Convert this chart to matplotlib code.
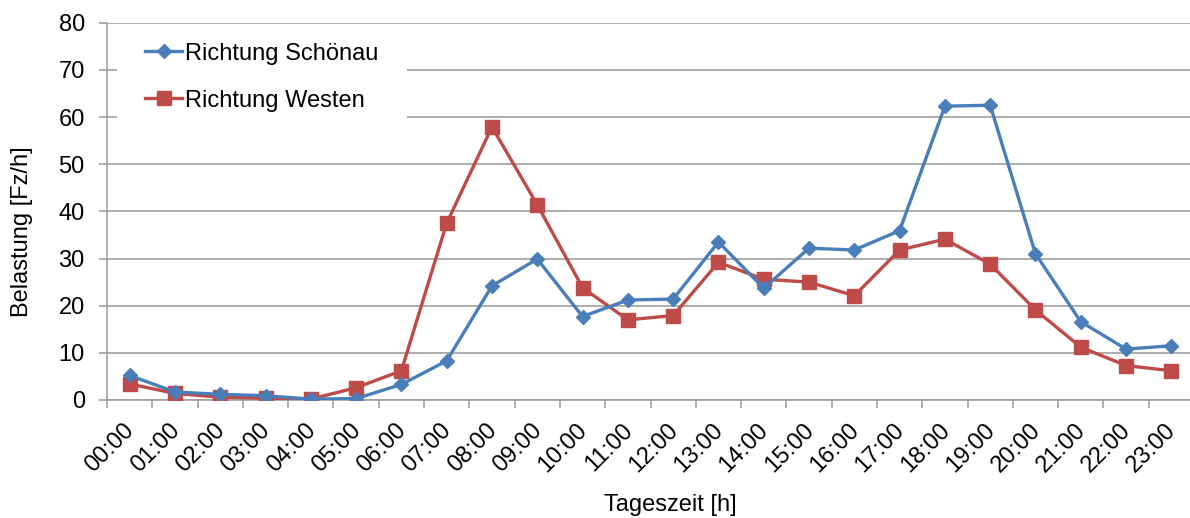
import matplotlib
matplotlib.use("Agg")
import matplotlib.pyplot as plt
from matplotlib.patches import Rectangle
import numpy as np

hours = [f"{h:02d}:00" for h in range(24)]
schoenau = [5.2, 1.7, 1.2, 0.9, 0.2, 0.3, 3.3, 8.3, 24.2, 29.9, 17.7, 21.2,
            21.4, 33.5, 23.7, 32.2, 31.8, 35.9, 62.3, 62.5, 31.0, 16.6, 10.8, 11.5]
westen = [3.4, 1.4, 0.6, 0.4, 0.2, 2.6, 6.2, 37.5, 57.9, 41.4, 23.8, 17.0,
          17.9, 29.2, 25.6, 25.0, 22.1, 31.8, 34.1, 28.8, 19.1, 11.2, 7.3, 6.2]
yticks = list(range(0, 81, 10))

plt.rcParams['font.family'] = ['Liberation Sans', 'DejaVu Sans']

W, H = 1190, 518
fig = plt.figure(figsize=(W / 100, H / 100), dpi=100)
left, right, top, bottom = 107, 1194, 22.7, 400
ax = fig.add_axes([left / W, 1 - bottom / H, (right - left) / W, (bottom - top) / H])

x = np.arange(len(hours)) + 0.5
blue = '#4A7EBB'
red = '#BE4B48'
ax.plot(x, schoenau, color=blue, lw=2.4, marker='D', ms=7.5, mec=blue, mfc=blue,
        label='Richtung Schönau', zorder=4)
ax.plot(x, westen, color=red, lw=2.4, marker='s', ms=9.5, mec=red, mfc=red,
        label='Richtung Westen', zorder=3)

ax.set_xlim(0, 24)
ax.set_ylim(0, 80)
ax.set_yticks(yticks)
ax.set_yticklabels([str(v) for v in yticks], fontsize=17)
ax.set_xticks(np.arange(0, 24))
ax.set_xticklabels([])
for i, lab in enumerate(hours):
    ax.text(i + 0.36, -4.1, lab, rotation=45, ha='right', va='top',
            fontsize=17, rotation_mode='anchor')

gc = '#A0A0A0'
ax.yaxis.grid(True, color=gc, lw=1.2, zorder=0)
ax.set_axisbelow(True)
for s in ['top', 'right']:
    ax.spines[s].set_visible(False)
for s in ['left', 'bottom']:
    ax.spines[s].set_color(gc)
    ax.spines[s].set_linewidth(1.2)
ax.tick_params(axis='both', colors=gc, length=6, width=1.2, labelcolor='black')
ax.tick_params(axis='y', pad=10)

fig.text(22 / W, 1 - 232 / H, 'Belastung [Fz/h]', fontsize=17, rotation=90,
         ha='center', va='center')
fig.text(670 / W, 1 - 505 / H, 'Tageszeit [h]', fontsize=17, ha='center', va='center')

# white legend area covering gridlines
ax.add_patch(Rectangle((117 / W, 1 - 124 / H), 290 / W, (124 - 27) / H,
                       transform=fig.transFigure, facecolor='white',
                       edgecolor='none', zorder=1, clip_on=False))

leg = ax.legend(loc='upper left', bbox_to_anchor=(127 / W, 1 - 25 / H),
                bbox_transform=fig.transFigure, fontsize=17, frameon=False,
                handlelength=1.6, handletextpad=0.12, labelspacing=1.05,
                borderpad=0.75, borderaxespad=0)
leg.set_zorder(5)

fig.savefig('out.png', dpi=100)
